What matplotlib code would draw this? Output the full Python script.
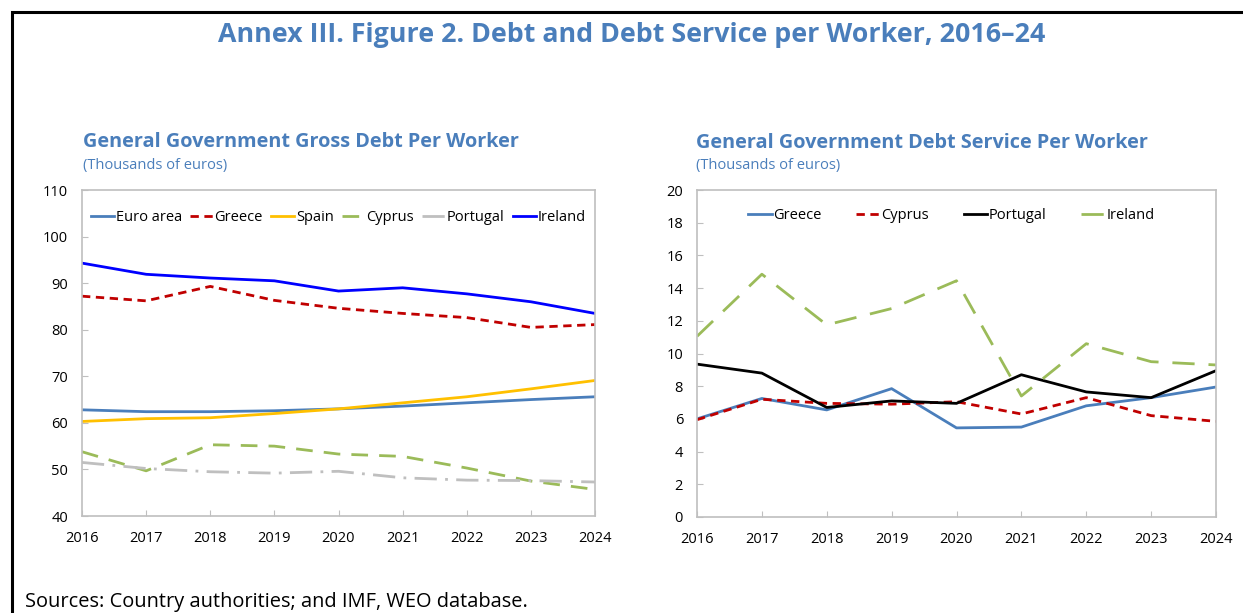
import matplotlib
matplotlib.use("Agg")
import matplotlib.pyplot as plt
from matplotlib.lines import Line2D

plt.rcParams['font.family'] = ['Open Sans', 'DejaVu Sans']

years = [2016, 2017, 2018, 2019, 2020, 2021, 2022, 2023, 2024]

# Left panel: gross debt per worker (thousands of euros)
debt_euro_area = [62.8, 62.4, 62.4, 62.6, 63.0, 63.6, 64.3, 65.0, 65.6]
debt_greece = [87.2, 86.2, 89.3, 86.3, 84.6, 83.5, 82.6, 80.5, 81.1]
debt_spain = [60.3, 60.9, 61.1, 62.0, 63.0, 64.3, 65.6, 67.3, 69.1]
debt_cyprus = [53.8, 49.7, 55.3, 55.0, 53.3, 52.8, 50.3, 47.5, 45.7]
debt_portugal = [51.5, 50.2, 49.5, 49.2, 49.6, 48.2, 47.7, 47.6, 47.3]
debt_ireland = [94.3, 91.9, 91.1, 90.5, 88.3, 89.0, 87.7, 86.0, 83.5]

# Right panel: debt service per worker (thousands of euros)
svc_greece = [6.0, 7.25, 6.55, 7.85, 5.45, 5.5, 6.8, 7.3, 7.95]
svc_cyprus = [5.95, 7.2, 6.95, 6.9, 7.05, 6.3, 7.3, 6.2, 5.85]
svc_portugal = [9.35, 8.8, 6.7, 7.1, 6.95, 8.7, 7.65, 7.3, 8.95]
svc_ireland = [11.05, 14.85, 11.75, 12.75, 14.45, 7.4, 10.6, 9.5, 9.3]

title_color = '#4A7EBB'
spine_color = '#BFBFBF'

fig = plt.figure(figsize=(12.43, 6.13), dpi=100)

def style_axes(ax):
    for s in ax.spines.values():
        s.set_color(spine_color)
        s.set_linewidth(1.2)
    ax.tick_params(axis='both', direction='in', color=spine_color, labelsize=10.5,
                   length=4)
    ax.tick_params(axis='x', pad=11)
    ax.tick_params(axis='y', pad=10)
    ax.set_xlim(2016, 2024)
    ax.set_xticks(years)

# Left panel
ax1 = fig.add_axes([82/1243, 1-516/613, 513/1243, 326/613])
ax1.plot(years, debt_euro_area, color='#4A7EBB', lw=2, label='Euro area')
ax1.plot(years, debt_greece, color='#C00000', lw=2, ls=(0, (3, 2)), label='Greece')
ax1.plot(years, debt_spain, color='#FFC000', lw=2, label='Spain')
ax1.plot(years, debt_cyprus, color='#9BBB59', lw=2, ls=(0, (6, 4)), label='Cyprus')
ax1.plot(years, debt_portugal, color='#BFBFBF', lw=2, ls=(0, (8, 3, 1, 3)), label='Portugal')
ax1.plot(years, debt_ireland, color='#0000FF', lw=2, label='Ireland')
ax1.set_ylim(40, 110)
ax1.set_yticks(range(40, 111, 10))
style_axes(ax1)
ax1.legend(loc='upper left', bbox_to_anchor=(0.0, 0.965), ncol=6, frameon=False,
           fontsize=10.5, handlelength=1.6, handletextpad=0.1, columnspacing=0.55,
           borderaxespad=0.2)

# Right panel
ax2 = fig.add_axes([697/1243, 1-517/613, 519/1243, 327/613])
ax2.plot(years, svc_greece, color='#4A7EBB', lw=2, label='Greece')
ax2.plot(years, svc_cyprus, color='#C00000', lw=2, ls=(0, (3, 2)), label='Cyprus')
ax2.plot(years, svc_portugal, color='black', lw=2, label='Portugal')
ax2.plot(years, svc_ireland, color='#9BBB59', lw=2, ls=(0, (8, 5)), label='Ireland')
ax2.set_ylim(0, 20)
ax2.set_yticks(range(0, 21, 2))
style_axes(ax2)
ax2.legend(loc='upper center', bbox_to_anchor=(0.49, 0.985), ncol=4, frameon=False,
           fontsize=10.5, handlelength=1.6, handletextpad=0.1, columnspacing=2.4)

# Titles
fig.text(632/1243, 1-35/613, 'Annex III. Figure 2. Debt and Debt Service per Worker, 2016–24',
         ha='center', va='center', fontsize=19.3, fontweight='bold', color=title_color)
fig.text(83/1243, 1-142/613, 'General Government Gross Debt Per Worker',
         ha='left', va='center', fontsize=14.3, fontweight='bold', color=title_color)
fig.text(83/1243, 1-165/613, '(Thousands of euros)',
         ha='left', va='center', fontsize=10.5, color=title_color)
fig.text(696/1243, 1-143/613, 'General Government Debt Service Per Worker',
         ha='left', va='center', fontsize=14.3, fontweight='bold', color=title_color)
fig.text(696/1243, 1-165/613, '(Thousands of euros)',
         ha='left', va='center', fontsize=10.5, color=title_color)

# Sources
fig.text(25/1243, 1-602/613, 'Sources: Country authorities; and IMF, WEO database.',
         ha='left', va='center', fontsize=14.4, color='black')

# Border (left and top edges)
bx = 11.5/1243
by = 1-11.5/613
fig.add_artist(Line2D([bx, bx, 1.0], [0.0, by, by], transform=fig.transFigure,
                      color='black', lw=2.2, solid_joinstyle='miter'))

fig.savefig('out.png', dpi=100)
